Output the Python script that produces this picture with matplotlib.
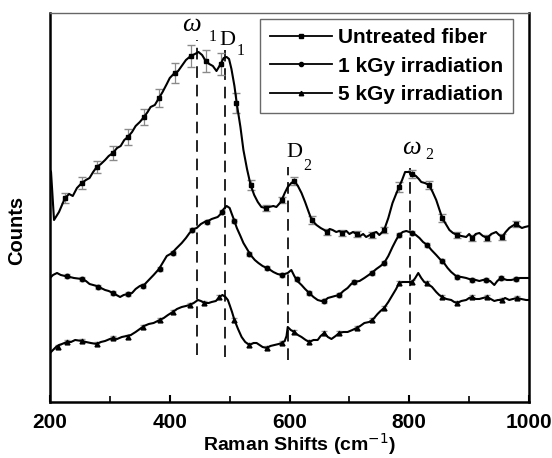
import matplotlib
matplotlib.use("Agg")
import matplotlib.pyplot as plt

# Raman spectra, counts in arbitrary units
untreated_x = [200, 201.7, 206.7, 215, 225, 232, 238, 245, 253, 260, 266, 272, 278, 285, 292, 298,
               305, 312, 318, 324, 330, 337, 343, 350, 357, 363, 368, 375, 382, 388, 395, 400,
               408, 414, 420, 427, 435, 442, 448, 454, 460, 466, 472, 478, 485, 490, 495, 499,
               503, 508, 512, 518, 523, 529, 535, 541, 547, 553, 560, 566, 573, 578, 584, 587,
               592, 597, 603, 608, 614, 620, 626, 632, 637, 645, 652, 658, 662, 667, 672, 678,
               683, 688, 695, 700, 706, 712, 718, 723, 728, 734, 740, 745, 750, 755, 758, 765,
               772, 778, 783, 788, 793, 799, 805, 811, 816, 820, 826, 833, 839, 845, 850, 855,
               861, 867, 873, 880, 887, 895, 900, 905, 911, 917, 923, 930, 937, 945, 950, 955,
               961, 967, 972, 978, 983, 988, 993, 1000]
untreated_y = [232, 230, 182, 190, 204, 208, 206, 214, 219, 222, 224, 230, 235, 238, 242, 246,
               249, 254, 256, 262, 265, 270, 276, 280, 285, 290, 295, 297, 304, 310, 318, 324,
               329, 331, 336, 342, 346, 348, 350, 347, 341, 338, 336, 331, 338, 344, 345, 343,
               333, 316, 298, 275, 252, 233, 217, 207, 200, 195, 194, 195, 196, 195, 199, 202,
               209, 215, 219, 221, 216, 209, 200, 190, 182, 177, 174, 172, 170, 173, 172, 170,
               171, 169, 171, 168, 170, 168, 166, 168, 165, 167, 169, 170, 167, 170, 172, 184,
               199, 208, 215, 222, 230, 230, 228, 226, 223, 220, 219, 217, 210, 202, 193, 184,
               178, 172, 169, 167, 166, 165, 168, 164, 168, 169, 166, 164, 168, 170, 167, 165,
               170, 174, 176, 178, 176, 174, 175, 176]
untreated_mx = [225, 253, 278, 305, 330, 357, 382, 408, 435, 460, 485, 510, 535, 560, 587, 608,
                637, 662, 688, 712, 737, 758, 783, 805, 833, 855, 880, 905, 930, 955, 978]
untreated_my = [204, 219, 235, 249, 265, 285, 304, 329, 346, 341, 338, 299, 217, 194, 202, 221,
                182, 170, 169, 168, 167, 172, 215, 228, 217, 184, 167, 164, 164, 165, 178]
untreated_err = [5, 6, 6, 7, 8, 8, 9, 10, 11, 11, 11, 10, 5, 3, 3, 4,
                 4, 3, 3, 3, 3, 3, 5, 4, 4, 4, 3, 3, 3, 3, 3]

kgy1_x = [200, 205, 211.7, 218, 225, 233, 240, 253, 260, 266, 272, 278, 285, 292, 298, 305,
          311, 317, 323, 330, 337, 343, 350, 357, 365, 373, 382, 389, 395, 404, 410, 420,
          427, 433, 440, 445, 452, 458, 464, 470, 475, 480, 485, 490, 495, 500, 503, 508,
          512, 518, 523, 529, 535, 542, 548, 555, 562, 568, 573, 580, 587, 592, 597, 603,
          608, 613, 620, 626, 633, 640, 647, 653, 658, 664, 670, 676, 683, 690, 697, 703,
          708, 717, 725, 737, 745, 752, 758, 765, 772, 778, 783, 789, 795, 800, 805, 811,
          817, 823, 830, 837, 845, 851, 858, 864, 870, 876, 880, 887, 895, 900, 905, 911,
          917, 923, 928, 935, 942, 947, 953, 958, 963, 970, 978, 985, 990, 1000]
kgy1_y = [124, 127, 129, 127, 126, 125, 124, 123, 121, 118, 117, 116, 114, 112, 111, 109,
          107, 105, 107, 108, 109, 113, 116, 117, 122, 127, 133, 140, 146, 149, 153, 159,
          164, 169, 173, 174, 178, 180, 181, 183, 184, 185, 188, 193, 196, 194, 189, 181,
          174, 166, 159, 153, 147, 142, 139, 136, 134, 132, 130, 128, 127, 128, 129, 132,
          126, 121, 117, 113, 109, 105, 102, 101, 101, 104, 105, 106, 107, 111, 114, 118,
          120, 121, 124, 129, 133, 136, 139, 146, 155, 162, 167, 170, 171, 170, 169, 167,
          164, 160, 157, 152, 147, 143, 139, 134, 130, 127, 125, 125, 124, 123, 122, 122,
          121, 122, 122, 121, 117, 121, 124, 123, 122, 122, 123, 124, 124, 124]
kgy1_mx = [228, 253, 280, 305, 330, 355, 383, 405, 437, 462, 487, 508, 533, 562, 587, 612,
           633, 658, 683, 708, 737, 758, 783, 805, 830, 855, 880, 905, 928, 953, 978]
kgy1_my = [126, 123, 115, 109, 108, 116, 133, 149, 172, 180, 190, 181, 148, 134, 127, 123,
           109, 101, 107, 120, 129, 139, 167, 169, 157, 141, 125, 122, 122, 124, 123]
kgy1_err = [2] * len(kgy1_mx)

kgy5_x = [200, 205, 210, 215, 220, 228, 235, 242, 253, 260, 268, 278, 285, 292, 300, 305,
          312, 320, 328, 335, 343, 350, 357, 365, 373, 383, 390, 397, 405, 412, 420, 427,
          433, 440, 447, 452, 458, 465, 470, 477, 483, 488, 493, 497, 500, 504, 508, 514,
          520, 526, 533, 540, 545, 550, 555, 562, 568, 575, 582, 587, 592, 595, 597, 602,
          608, 614, 620, 627, 633, 640, 647, 652, 658, 664, 670, 677, 683, 690, 697, 705,
          712, 718, 725, 733, 740, 747, 752, 758, 765, 772, 778, 783, 789, 795, 800, 805,
          810, 815, 820, 825, 831, 838, 845, 850, 855, 862, 870, 875, 880, 887, 895, 900,
          905, 911, 917, 923, 930, 936, 942, 948, 955, 960, 967, 973, 980, 987, 995, 1000]
kgy5_y = [49, 52, 55, 57, 58, 60, 60, 62, 61, 60, 59, 58, 60, 61, 63, 64,
          63, 65, 66, 67, 70, 73, 76, 78, 79, 82, 84, 87, 90, 93, 95, 96,
          97, 99, 102, 101, 99, 99, 100, 101, 105, 107, 105, 102, 97, 90, 82, 73,
          65, 60, 57, 59, 59, 57, 55, 54, 56, 57, 58, 59, 61, 66, 75, 72,
          70, 67, 65, 62, 60, 62, 62, 66, 69, 65, 63, 66, 69, 70, 70, 72,
          74, 76, 79, 80, 83, 88, 91, 94, 100, 107, 113, 119, 120, 120, 120, 120,
          124, 129, 124, 120, 118, 115, 110, 107, 105, 103, 102, 100, 99, 101, 102, 104,
          105, 103, 103, 104, 105, 103, 101, 102, 102, 104, 102, 103, 104, 103, 102, 102]
kgy5_mx = [213, 228, 253, 278, 305, 330, 355, 383, 405, 433, 458, 483, 508, 533, 562, 587,
           608, 633, 658, 683, 712, 737, 758, 783, 805, 830, 855, 880, 905, 930, 955, 980]
kgy5_my = [55, 60, 61, 58, 64, 65, 75, 82, 90, 97, 99, 105, 82, 57, 54, 59,
           70, 60, 69, 69, 74, 82, 94, 119, 120, 119, 105, 99, 105, 105, 102, 104]
kgy5_err = [2] * len(kgy5_mx)

# peak positions of the dashed guide lines: (x, bottom, top)
peak_x = [445, 493, 597, 802]
peak_bottom = [47, 45, 42, 42]
peak_top = [362, 352, 235, 234]

fig = plt.figure(figsize=(5.52, 4.58), dpi=100)
ax = fig.add_axes([0.0906, 0.1223, 0.8678, 0.8493])

ax.plot(untreated_x, untreated_y, color='black', lw=1.5, zorder=3)
ax.errorbar(untreated_mx, untreated_my, yerr=untreated_err, fmt='none', ecolor='#8a8a8a',
            elinewidth=0.9, capsize=3, zorder=2)
ax.plot(untreated_mx, untreated_my, 's', color='black', ms=3.2, zorder=4)

ax.plot(kgy1_x, kgy1_y, color='black', lw=1.5, zorder=3)
ax.errorbar(kgy1_mx, kgy1_my, yerr=kgy1_err, fmt='none', ecolor='#9a9a9a',
            elinewidth=0.9, capsize=2.5, zorder=2)
ax.plot(kgy1_mx, kgy1_my, 'o', color='black', ms=3.2, zorder=4)

ax.plot(kgy5_x, kgy5_y, color='black', lw=1.5, zorder=3)
ax.errorbar(kgy5_mx, kgy5_my, yerr=kgy5_err, fmt='none', ecolor='#9a9a9a',
            elinewidth=0.9, capsize=2.5, zorder=2)
ax.plot(kgy5_mx, kgy5_my, '^', color='black', ms=3.4, zorder=4)

# legend proxies
ax.plot([], [], '-s', color='black', lw=1.3, ms=3, label='Untreated fiber')
ax.plot([], [], '-o', color='black', lw=1.3, ms=3, label='1 kGy irradiation')
ax.plot([], [], '-^', color='black', lw=1.3, ms=3.2, label='5 kGy irradiation')

for x0, y0, y1 in zip(peak_x, peak_bottom, peak_top):
    ax.plot([x0, x0], [y0, y1], color='#222222', lw=1.4, dashes=(6, 3.5), zorder=1)

serif = 'Liberation Serif'
ax.text(436.7, 377, 'ω', family=serif, style='italic', fontsize=19, ha='center', va='center')
ax.text(471.7, 365, '1', family=serif, fontsize=11.5, ha='center', va='center')
ax.text(496.7, 362, 'D', family=serif, fontsize=16, ha='center', va='center')
ax.text(519, 351, '1', family=serif, fontsize=11.5, ha='center', va='center')
ax.text(608, 249, 'D', family=serif, fontsize=16, ha='center', va='center')
ax.text(629, 236, '2', family=serif, fontsize=11.5, ha='center', va='center')
ax.text(803, 254, 'ω', family=serif, style='italic', fontsize=19, ha='center', va='center')
ax.text(834, 247, '2', family=serif, fontsize=11.5, ha='center', va='center')

ax.set_xlim(200, 1000)
ax.set_ylim(0, 389)
ax.set_xticks([200, 400, 600, 800, 1000])
ax.set_xticks([300, 500, 700, 900], minor=True)
ax.set_yticks([])
ax.tick_params(axis='x', which='major', direction='in', length=5, width=1.5, pad=8)
ax.tick_params(axis='x', which='minor', direction='in', length=4, width=1.2)
for lbl in ax.get_xticklabels():
    lbl.set_fontfamily('Liberation Sans')
    lbl.set_fontweight('bold')
    lbl.set_fontsize(15)

for side in ['left', 'bottom', 'right']:
    ax.spines[side].set_linewidth(1.8)
ax.spines['top'].set_linewidth(1.0)
ax.spines['top'].set_color('#666666')

ax.set_xlabel('Raman Shifts (cm$^{-1}$)', family='Liberation Sans', fontweight='bold',
              fontsize=14)
ax.xaxis.set_label_coords(0.52, -0.075)
ax.set_ylabel('Counts', family='Liberation Sans', fontweight='bold', fontsize=14.5)
ax.yaxis.set_label_coords(-0.05, 0.44)

leg = ax.legend(loc='upper right', bbox_to_anchor=(0.9665, 0.9846), fancybox=False,
                frameon=True, edgecolor='#444444', handlelength=3.0, handletextpad=0.3,
                labelspacing=0.45, borderpad=0.45, borderaxespad=0,
                prop={'family': 'Liberation Sans', 'weight': 'bold', 'size': 15})
leg.get_frame().set_linewidth(1.0)

fig.savefig('out.png', dpi=100)
